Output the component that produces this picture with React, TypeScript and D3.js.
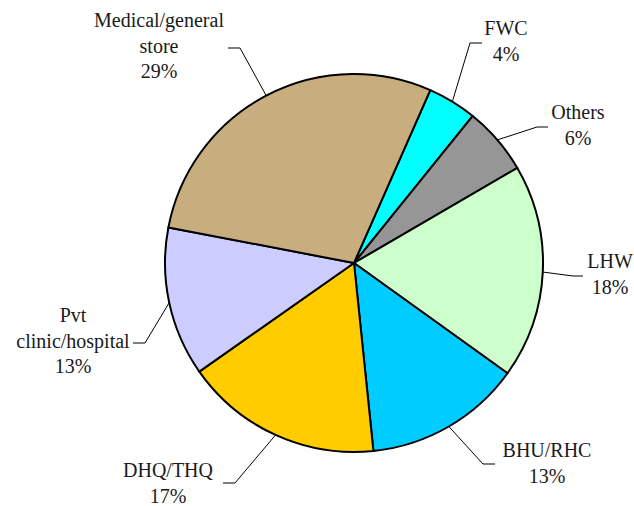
import React from 'react';
import * as d3 from 'd3';

// Share of respondents by source (percent), clockwise from FWC
const categories = ['FWC', 'Others', 'LHW', 'BHU/RHC', 'DHQ/THQ', 'Pvt clinic/hospital', 'Medical/general store'];
const values = [4.2, 5.8, 18.3, 13.45, 16.9, 12.75, 28.6];
const colors = ['#00FFFF', '#969696', '#CCFFCC', '#00CCFF', '#FFCC00', '#CCCCFF', '#C8AD7F'];
// label text split into lines
const labelLines = [['FWC'], ['Others'], ['LHW'], ['BHU/RHC'], ['DHQ/THQ'], ['Pvt', 'clinic/hospital'], ['Medical/general', 'store']];

// Layout of the labels: text centre / first baseline, leader elbow, end of short horizontal
const labelLayout = [
  { x: 506, y: 35, ex: 470, ey: 43, hx: 482 },
  { x: 578, y: 119, ex: 537, ey: 127, hx: 548 },
  { x: 610, y: 268, ex: 573, ey: 276, hx: 583 },
  { x: 547, y: 457, ex: 483, ey: 464, hx: 495 },
  { x: 168, y: 477, ex: 235, ey: 483, hx: 223 },
  { x: 73, y: 322, ex: 145, ey: 343, hx: 133 },
  { x: 159, y: 27, ex: 240, ey: 48, hx: 228 },
];

const width = 634;
const height = 506;
const cx = 354;
const cy = 263;
const radius = 189;
const startDeg = 23.8;
const lineH = 25.5;

export default function App() {
  const total = d3.sum(values);
  const start = (startDeg * Math.PI) / 180;
  const pie = d3.pie<number>().sort(null).startAngle(start).endAngle(start + 2 * Math.PI);
  const arcs = pie(values);
  const arc = d3.arc<d3.PieArcDatum<number>>().innerRadius(0).outerRadius(radius);

  return (
    <svg width={width} height={height} style={{ position: 'absolute', left: 0, top: 0, background: '#fff' }}
      fontFamily="Liberation Serif" fontSize={20}>
      <g transform={`translate(${cx},${cy})`}>
        {arcs.map((a, i) => (
          <path key={i} d={arc(a) || ''} fill={colors[i]} stroke="#000" strokeWidth={2} strokeLinejoin="round" />
        ))}
      </g>
      {arcs.map((a, i) => {
        const mid = (a.startAngle + a.endAngle) / 2;
        const px = cx + radius * Math.sin(mid);
        const py = cy - radius * Math.cos(mid);
        const L = labelLayout[i];
        const pct = Math.round((values[i] / total) * 100) + '%';
        const lines = [...labelLines[i], pct];
        return (
          <g key={i}>
            <polyline points={`${px},${py} ${L.ex},${L.ey} ${L.hx},${L.ey}`} fill="none" stroke="#000" strokeWidth={1} />
            <text x={L.x} y={L.y} textAnchor="middle" fill="#1a1a1a">
              {lines.map((t, j) => (
                <tspan key={j} x={L.x} y={L.y + j * lineH}>{t}</tspan>
              ))}
            </text>
          </g>
        );
      })}
    </svg>
  );
}
